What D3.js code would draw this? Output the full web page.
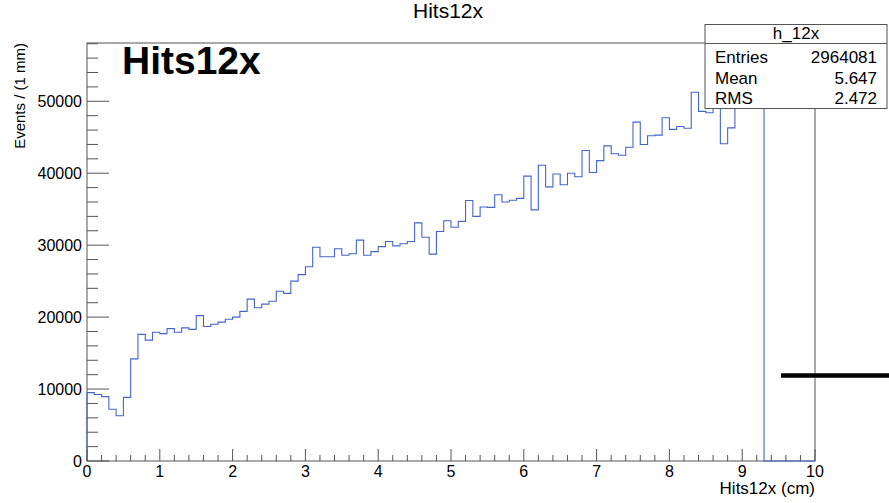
<!DOCTYPE html>
<html lang="en">
<head>
  <meta charset="UTF-8">
  <title>Hits12x</title>
  <style>
    body { margin: 0; background: #fff; }
    text { font-family: "Liberation Sans", Arial, Helvetica, sans-serif; fill: #000; }
  </style>
</head>
<body>
  <svg id="svg" width="889" height="503"></svg>
  <script src="https://d3js.org/d3.v7.min.js"></script>
  <script>
    // bin contents, 1 mm bins starting at 0 cm
    const counts = [
      9500, 9250, 8950, 7200, 6300, 8850, 14200, 17600, 16800, 17900,
      17700, 18400, 17900, 18500, 18300, 20200, 18700, 19000, 19300, 19700,
      20000, 20800, 22500, 21300, 21800, 22200, 23600, 23300, 25000, 25900,
      27000, 29700, 28400, 28400, 29500, 28600, 28800, 30700, 28600, 29100,
      29800, 30500, 29900, 30200, 30500, 33100, 31100, 28750, 31900, 33400,
      32500, 33300, 36200, 34000, 35300, 35250, 37000, 36000, 36250, 36500,
      39600, 34900, 41100, 38100, 39900, 38400, 40000, 39500, 43150, 40100,
      41750, 43800, 42700, 42500, 43600, 47100, 44000, 45200, 45300, 47700,
      46100, 46500, 46250, 51250, 48600, 48400, 49500, 44100, 46300, 49000,
      50500, 51000, 52000, 0, 0, 0, 0, 0, 0, 0
    ]
    const binWidth = 0.1
    const xTicks = [0, 1, 2, 3, 4, 5, 6, 7, 8, 9, 10]
    const yTicks = [0, 10000, 20000, 30000, 40000, 50000]
    const statLabels = ['Entries', 'Mean', 'RMS']
    const statValues = ['2964081', '5.647', '2.472']

    const svg = d3.select('#svg')
    const padL = 87, padR = 815, padT = 43, padB = 461

    const x = d3.scaleLinear().domain([0, 10]).range([padL, padR])
    const y = d3.scaleLinear().domain([0, 58100]).range([padB, padT])

    // title
    svg.append('text')
      .attr('x', 448).attr('y', 18)
      .attr('text-anchor', 'middle')
      .style('font-size', '21px')
      .text('Hits12x')

    // frame
    svg.append('rect')
      .attr('x', padL).attr('y', padT)
      .attr('width', padR - padL).attr('height', padB - padT)
      .attr('fill', 'none').attr('stroke', '#555').attr('stroke-width', 1)

    // histogram outline
    const pts = [[x(0), y(0)]]
    counts.forEach((c, i) => {
      pts.push([x(i * binWidth), y(c)])
      pts.push([x((i + 1) * binWidth), y(c)])
    })
    svg.append('path')
      .attr('d', d3.line()(pts))
      .attr('fill', 'none')
      .attr('stroke', '#4466cc')
      .attr('stroke-width', 1.1)

    // x axis ticks (drawn inside the frame, pointing up)
    const xMinor = d3.range(0, 10.001, 0.2)
    svg.append('g').selectAll('line').data(xMinor).enter().append('line')
      .attr('x1', d => x(d)).attr('x2', d => x(d))
      .attr('y1', padB)
      .attr('y2', d => Math.abs(d - Math.round(d)) < 1e-6 ? padB - 12 : padB - 6)
      .attr('stroke', '#555')
    svg.append('g').selectAll('text').data(xTicks).enter().append('text')
      .attr('x', d => x(d)).attr('y', 477)
      .attr('text-anchor', 'middle')
      .style('font-size', '16px')
      .text(d => d)

    // y axis ticks (pointing right)
    const yMinor = d3.range(0, 58001, 2000)
    svg.append('g').selectAll('line').data(yMinor).enter().append('line')
      .attr('x1', padL)
      .attr('x2', d => d % 10000 === 0 ? padL + 22 : padL + 11)
      .attr('y1', d => y(d)).attr('y2', d => y(d))
      .attr('stroke', '#555')
    svg.append('g').selectAll('text').data(yTicks).enter().append('text')
      .attr('x', 82).attr('y', d => y(d))
      .attr('dy', '0.36em')
      .attr('text-anchor', 'end')
      .style('font-size', '16px')
      .text(d => d)

    // axis titles
    svg.append('text')
      .attr('x', padR).attr('y', 494)
      .attr('text-anchor', 'end')
      .style('font-size', '17px')
      .text('Hits12x (cm)')
    svg.append('text')
      .attr('transform', `translate(25,${padT}) rotate(-90)`)
      .attr('text-anchor', 'end')
      .style('font-size', '15px')
      .text('Events / (1 mm)')

    // big label
    svg.append('text')
      .attr('x', 122).attr('y', 74)
      .style('font-size', '39px')
      .style('font-weight', 'bold')
      .text('Hits12x')

    // thick black marker line on the right
    svg.append('line')
      .attr('x1', 781).attr('x2', 889)
      .attr('y1', 375.5).attr('y2', 375.5)
      .attr('stroke', '#000').attr('stroke-width', 4.5)

    // stats box
    const box = svg.append('g')
    box.append('rect')
      .attr('x', 705).attr('y', 24.5)
      .attr('width', 182).attr('height', 84)
      .attr('fill', '#fff').attr('stroke', '#555')
    box.append('line')
      .attr('x1', 705).attr('x2', 887).attr('y1', 43.5).attr('y2', 43.5)
      .attr('stroke', '#555')
    box.append('text')
      .attr('x', 796).attr('y', 39)
      .attr('text-anchor', 'middle')
      .style('font-size', '17px')
      .text('h_12x')
    box.selectAll('.lab').data(statLabels).enter().append('text')
      .attr('class', 'lab')
      .attr('x', 715).attr('y', (d, i) => 63 + i * 20.5)
      .style('font-size', '17px')
      .text(d => d)
    box.selectAll('.val').data(statValues).enter().append('text')
      .attr('class', 'val')
      .attr('x', 877).attr('y', (d, i) => 63 + i * 20.5)
      .attr('text-anchor', 'end')
      .style('font-size', '17px')
      .text(d => d)
  </script>
</body>
</html>
